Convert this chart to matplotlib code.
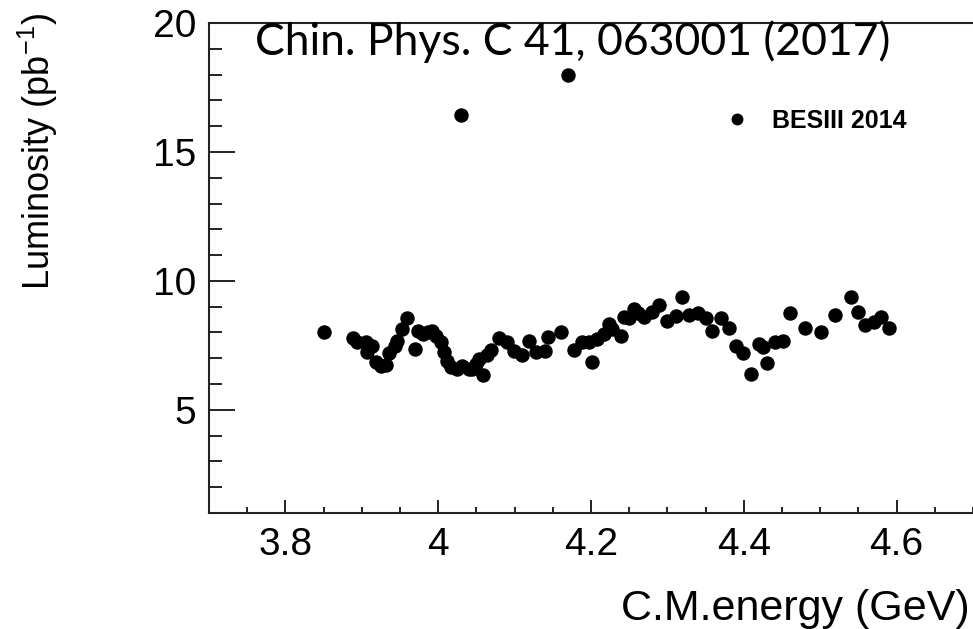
import matplotlib
matplotlib.use("Agg")
import matplotlib.pyplot as plt
from matplotlib.ticker import MultipleLocator, FuncFormatter

# Integrated luminosity per data-taking point (BESIII 2014 scan)
energy = [3.850, 3.888, 3.894, 3.906, 3.907, 3.914, 3.919, 3.925, 3.932, 3.935,
          3.943, 3.946, 3.953, 3.959, 3.969, 3.974, 3.980, 3.986, 3.992, 3.997,
          4.004, 4.008, 4.012, 4.017, 4.024, 4.030, 4.031, 4.040, 4.044, 4.050,
          4.054, 4.058, 4.064, 4.069, 4.080, 4.090, 4.099, 4.110, 4.119, 4.128,
          4.140, 4.144, 4.161, 4.170, 4.178, 4.188, 4.197, 4.201, 4.208, 4.217,
          4.224, 4.228, 4.239, 4.243, 4.250, 4.256, 4.262, 4.269, 4.280, 4.289,
          4.299, 4.311, 4.319, 4.328, 4.340, 4.350, 4.359, 4.370, 4.380, 4.390,
          4.399, 4.410, 4.420, 4.425, 4.430, 4.441, 4.451, 4.460, 4.480, 4.501,
          4.520, 4.540, 4.549, 4.559, 4.570, 4.580, 4.590]
luminosity = [8.02, 7.78, 7.63, 7.63, 7.24, 7.48, 6.86, 6.70, 6.74, 7.20,
              7.48, 7.67, 8.13, 8.56, 7.36, 8.06, 7.94, 8.00, 8.06, 7.86,
              7.63, 7.24, 6.90, 6.66, 6.59, 16.44, 6.70, 6.59, 6.59, 6.78,
              6.97, 6.35, 7.13, 7.32, 7.78, 7.63, 7.28, 7.13, 7.67, 7.24,
              7.28, 7.82, 8.02, 17.99, 7.32, 7.63, 7.63, 6.86, 7.75, 7.94,
              8.33, 8.15, 7.86, 8.60, 8.55, 8.90, 8.75, 8.60, 8.79, 9.06,
              8.44, 8.64, 9.37, 8.67, 8.75, 8.56, 8.06, 8.56, 8.17, 7.48,
              7.20, 6.39, 7.55, 7.44, 6.82, 7.63, 7.67, 8.75, 8.17, 8.02,
              8.67, 9.37, 8.79, 8.29, 8.40, 8.60, 8.17]

series_label = "BESIII 2014"
x_title = "C.M.energy (GeV)"
y_title = r"Luminosity (pb$^{\mathregular{-1}}$)"
reference = "Chin. Phys. C 41, 063001 (2017)"

plt.rcParams["font.family"] = ["Liberation Sans", "DejaVu Sans"]
plt.rcParams["mathtext.fontset"] = "custom"
plt.rcParams["mathtext.rm"] = "Liberation Sans"

W, H = 973, 629
fig = plt.figure(figsize=(W / 100, H / 100), dpi=100)
ax = fig.add_axes([209 / W, 1 - 513 / H, 1 - 209 / W, (513 - 23) / H])

ax.plot(energy, luminosity, linestyle="none", marker="o", markersize=9.4,
        color="black", label=series_label)

ax.set_xlim(3.7, 4.7)
ax.set_ylim(1, 20)
ax.xaxis.set_major_locator(MultipleLocator(0.2))
ax.xaxis.set_minor_locator(MultipleLocator(0.05))
ax.yaxis.set_major_locator(MultipleLocator(5))
ax.yaxis.set_minor_locator(MultipleLocator(1))
ax.xaxis.set_major_formatter(FuncFormatter(lambda v, p: f"{v:g}"))

ax.tick_params(axis="both", which="both", direction="in", color="#222222",
               width=1.4, top=False, right=False, labelsize=28)
ax.tick_params(axis="y", which="major", length=18.5, pad=9)
ax.tick_params(axis="y", which="minor", length=9.4)
ax.tick_params(axis="x", which="major", length=9.4, pad=10)
ax.tick_params(axis="x", which="minor", length=4.4)

for side in ("left", "bottom", "top"):
    ax.spines[side].set_linewidth(1.5)
    ax.spines[side].set_color("#222222")
ax.spines["right"].set_visible(False)

fig.text(970 / W, 1 - 620 / H, x_title, ha="right", va="baseline", fontsize=31)
fig.text(38 / W, 1 - 152 / H, y_title, ha="center", va="center", rotation=90,
         fontsize=26)

fig.text(255 / W, 1 - 55 / H, reference, ha="left", va="baseline",
         family="Lato", fontsize=32)

ax.legend(loc="center left", bbox_to_anchor=(724.5 / W, 1 - 121 / H),
          bbox_transform=fig.transFigure, frameon=False, borderpad=0,
          borderaxespad=0, handlelength=1.0, handletextpad=0.9, markerscale=0.8,
          prop={"weight": "bold", "size": 18})

fig.savefig("out.png", dpi=100)
